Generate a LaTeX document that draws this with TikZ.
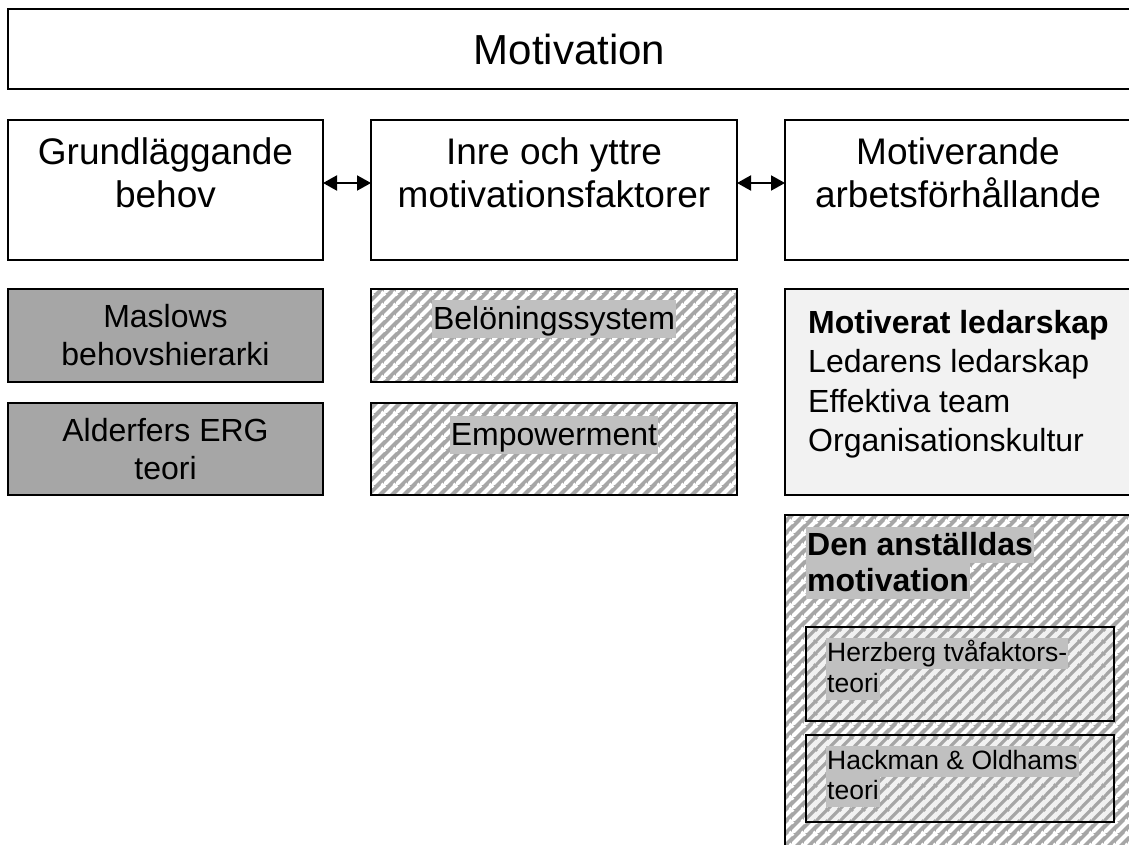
\documentclass[tikz,border=0pt]{standalone}
\usepackage{fontspec}
\setmainfont{Liberation Sans}
\usetikzlibrary{arrows.meta, patterns, positioning}

\definecolor{boxgray}{HTML}{A6A6A6}
\definecolor{lightbg}{HTML}{F2F2F2}
\definecolor{textbg}{HTML}{C0C0C0}

% wide diagonal stripes
\pgfdeclarepatternformonly{hatch}{\pgfqpoint{0pt}{0pt}}{\pgfqpoint{12pt}{12pt}}{\pgfqpoint{12pt}{12pt}}{
  \pgfsetlinewidth{4.4pt}
  \pgfpathmoveto{\pgfqpoint{-1pt}{-1pt}}\pgfpathlineto{\pgfqpoint{13pt}{13pt}}
  \pgfpathmoveto{\pgfqpoint{11pt}{-1pt}}\pgfpathlineto{\pgfqpoint{13pt}{1pt}}
  \pgfpathmoveto{\pgfqpoint{-1pt}{11pt}}\pgfpathlineto{\pgfqpoint{1pt}{13pt}}
  \pgfusepath{stroke}
}
\pgfdeclarepatternformonly{hatchthin}{\pgfqpoint{0pt}{0pt}}{\pgfqpoint{12pt}{12pt}}{\pgfqpoint{12pt}{12pt}}{
  \pgfsetlinewidth{3.4pt}
  \pgfpathmoveto{\pgfqpoint{-1pt}{-1pt}}\pgfpathlineto{\pgfqpoint{13pt}{13pt}}
  \pgfpathmoveto{\pgfqpoint{11pt}{-1pt}}\pgfpathlineto{\pgfqpoint{13pt}{1pt}}
  \pgfpathmoveto{\pgfqpoint{-1pt}{11pt}}\pgfpathlineto{\pgfqpoint{1pt}{13pt}}
  \pgfusepath{stroke}
}

\begin{document}
\begin{tikzpicture}[x=1pt, y=-1pt,
    >={Triangle[length=14pt, width=15pt]},
    box/.style={draw, line width=1.8pt, inner sep=0pt, outer sep=0pt, anchor=north west},
    grbox/.style={box, fill=boxgray, align=center, font=\fontsize{32}{38}\selectfont},
    hatchbox/.style={box, preaction={fill=boxgray}, pattern=hatch, pattern color=white},
    hatchlight/.style={box, preaction={fill=lightbg}, pattern=hatchthin, pattern color=boxgray},
    big/.style={align=center, inner sep=0pt, font=\fontsize{37}{43}\selectfont},
    hl/.style={fill=textbg, inner xsep=1pt, inner ysep=0pt, anchor=north west},
    mid/.style={font=\fontsize{32}{38}\selectfont, text height=29.5pt, text depth=8.5pt},
    small/.style={font=\fontsize{26.5}{31}\selectfont, text height=23pt, text depth=8pt},
    arr/.style={<->, line width=2pt}
  ]
  \useasboundingbox (0,0) rectangle (1129,845);
  \clip (0,0) rectangle (1129,845);

  % top
  \node[box, minimum width=1123pt, minimum height=80pt, font=\fontsize{42}{48}\selectfont] (motiv) at (8,9) {Motivation};

  % second row
  \node[box, minimum width=315pt, minimum height=140pt] (grund)  at (8,120) {};
  \node[box, minimum width=366pt, minimum height=140pt] (inre)   at (371,120) {};
  \node[box, minimum width=346pt, minimum height=140pt] (arbets) at (785,120) {};
  \node[big, below=17pt of grund.north]  (grundtext)  {Grundläggande\\behov};
  \node[big, below=17pt of inre.north]   (inretext)   {Inre och yttre\\motivationsfaktorer};
  \node[big, below=17pt of arbets.north] (arbetstext) {Motiverande\\arbetsförhållande};

  \draw[arr] ([yshift=7pt]grund.east) -- ([yshift=7pt]inre.west);
  \draw[arr] ([yshift=7pt]inre.east)  -- ([yshift=7pt]arbets.west);

  % left column
  \node[grbox, minimum width=315pt, minimum height=93pt] (maslow) at (8,289) {Maslows\\behovshierarki};
  \node[grbox, minimum width=315pt, minimum height=92pt] (alder)  at (8,403) {Alderfers ERG\\teori};

  % middle column
  \node[hatchbox, minimum width=366pt, minimum height=93pt] (belon) at (371,289) {};
  \node[hatchbox, minimum width=366pt, minimum height=92pt] (empow) at (371,403) {};
  \node[hl, mid, below=11pt of belon.north] (belontext) {Belöningssystem};
  \node[hl, mid, below=13pt of empow.north] (empowtext) {Empowerment};

  % right column
  \node[box, fill=lightbg, minimum width=346pt, minimum height=206pt] (ledar) at (785,289) {};
  \node[anchor=north west, inner sep=0pt, align=left, font=\fontsize{32}{39.5}\selectfont] (ledartext) at (808,310)
    {\textbf{Motiverat ledarskap}\\Ledarens ledarskap\\Effektiva team\\Organisationskultur};

  \node[hatchbox, minimum width=346pt, minimum height=345pt] (anst) at (785,515) {};
  \node[hl, font=\fontsize{32}{36}\selectfont\bfseries, text height=28pt, text depth=8pt] (anst1) at (806,527) {Den anställdas};
  \node[hl, font=\fontsize{32}{36}\selectfont\bfseries, text height=28pt, text depth=8pt] (anst2) at (806,563) {motivation};

  \node[hatchlight, minimum width=308pt, minimum height=94pt] (herz) at (806,627) {};
  \node[hl, small] (herz1) at (826,638) {Herzberg tvåfaktors-};
  \node[hl, small] (herz2) at (826,669) {teori};

  \node[hatchlight, minimum width=308pt, minimum height=87pt] (hack) at (806,735) {};
  \node[hl, small] (hack1) at (826,746) {Hackman \& Oldhams};
  \node[hl, small] (hack2) at (826,776) {teori};

\end{tikzpicture}
\end{document}
